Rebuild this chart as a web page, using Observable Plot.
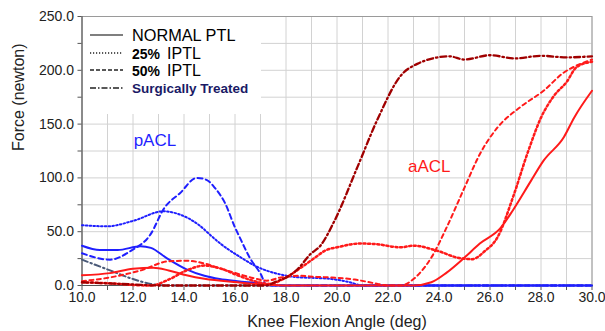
<!DOCTYPE html>
<html><head><meta charset="utf-8">
<script src="https://cdn.jsdelivr.net/npm/d3@7"></script>
<script src="https://cdn.jsdelivr.net/npm/@observablehq/plot@0.6"></script>
<style>
body{margin:0;background:#fff;font-family:"Liberation Sans",Arial,sans-serif;}
#wrap{position:relative;width:605px;height:331px;}
#legend{position:absolute;left:83px;top:17px;width:178px;height:97px;background:#fff;}
</style></head><body><div id="wrap"><div id="chart"></div><div id="legend"></div></div>
<script>
// ---- axis ticks ----
const xTicks = [10,11,12,13,14,15,16,17,18,19,20,21,22,23,24,25,26,27,28,29,30];
const yTicks = [0,25,50,75,100,125,150,175,200,225,250];
const xDomain = [10, 30];
const yDomain = [0, 250];

// ---- pACL (blue) ----
const pNormalX = [10, 10.7, 11.4, 12.3, 12.7, 13.35, 14.1, 14.8, 15.4, 16.1, 17.0, 17.6, 30];
const pNormalY = [37, 33, 33, 36.5, 35, 25, 15, 9, 6, 4, 2, 0, 0];
const p25X = [10, 11, 12, 13.2, 13.7, 14.65, 15.05, 15.45, 16.1, 16.9, 17.65, 18.45, 19.35, 19.8, 20.5, 21.0, 30];
const p25Y = [56, 55, 60, 69, 67, 55, 46.5, 38.5, 28, 17, 11, 7.7, 6.8, 6, 3, 0, 0];
const p50X = [10, 11.1, 11.9, 12.7, 13.2, 13.85, 14.5, 14.9, 15.2, 15.6, 16.0, 16.15, 16.6, 17.0, 17.25, 30];
const p50Y = [30, 24, 32, 48, 71, 86, 100, 98, 91, 77, 54, 46.5, 25, 11, 0, 0];
const pSurgX = [10, 11.1, 12.0, 12.7, 13.3, 30];
const pSurgY = [24, 14, 6, 1.5, 0, 0];

// ---- aACL (red) ----
const aNormalX = [10, 11.1, 12.0, 12.8, 13.4, 14.1, 14.8, 16.1, 17.2, 18, 23.0, 23.7, 24.3, 25.0, 25.6, 26.4, 26.9, 27.6, 28.1, 28.9, 29.3, 30];
const aNormalY = [9.5, 11.5, 15.5, 16.5, 14, 9.5, 6.2, 3, 0.8, 0, 0, 3, 12, 26, 39, 53, 70, 97, 116, 138, 156, 181];
const a25X = [10, 11.1, 12.0, 12.7, 13.4, 14.1, 14.8, 15.4, 16.1, 16.7, 17.35, 18.0, 18.7, 19.2, 19.5, 20.1, 20.9, 21.5, 22.5, 23.0, 23.9, 24.8, 25.3, 25.8, 26.3, 26.9, 27.5, 28.0, 28.5, 29.0, 29.4, 30];
const a25Y = [3, 2, 0.5, 0, 5.5, 14, 18.5, 16, 9.5, 4.5, 1.5, 7.5, 18.5, 27, 32, 36, 39, 38.5, 35.5, 37, 32.5, 25.5, 24.5, 32, 45, 82, 125, 156, 176, 189, 203, 208];
const a50X = [10, 11.1, 12.3, 13.4, 14.1, 14.8, 15.4, 16.1, 16.7, 17.25, 17.8, 18.5, 19.2, 19.8, 20.7, 21.6, 22.0, 22.5, 23.0, 23.7, 24.3, 25.0, 25.6, 26.3, 27.2, 28.1, 28.9, 29.55, 30];
const a50Y = [4, 7.5, 14, 22.5, 23, 20.5, 16, 11, 7, 4.5, 7.5, 9, 8, 7.5, 5.5, 1.5, 0, 0, 6, 26, 54, 91, 122, 147, 166, 181, 198, 206, 210];
const aSurgX = [10, 11, 12, 13, 17.2, 17.65, 18.05, 18.45, 18.95, 19.35, 19.9, 20.8, 21.6, 22.5, 23.15, 24.4, 25.0, 26.0, 27.0, 28.0, 29.0, 30];
const aSurgY = [3, 2, 1, 0, 0, 4, 8, 15, 29, 37, 60, 110, 155, 195, 206, 213, 210, 214, 211, 213.5, 212, 213];

// ---- annotations ----
const noteText = ["pACL", "aACL"];
const noteX = [12.86, 23.62];
const noteY = [134.8, 110.1];
const noteColor = ["#1f1fff", "#ff1a1a"];

// ---- legend ----
const legendLabels = ["NORMAL PTL", "25%  IPTL", "50%  IPTL", "Surgically Treated"];

const pts = (xs, ys) => xs.map((x, i) => ({x, y: ys[i]}));
const BLUE = "#1f1fff", RED = "#ff1a1a", DRED = "#a00000", SLATE = "#4a5a78";
const line = (xs, ys, stroke, dash, w) => Plot.line(pts(xs, ys), {x: "x", y: "y", stroke, strokeWidth: w || 2, strokeDasharray: dash, curve: "monotone-x"});

const notes = noteText.map((t, i) => ({t, x: noteX[i], y: noteY[i], c: noteColor[i]}));

const chart = Plot.plot({
  width: 605, height: 331,
  marginLeft: 81.5, marginRight: 13.5, marginTop: 16, marginBottom: 46,
  style: {fontFamily: "'Liberation Sans', Arial, sans-serif", fontSize: "14px", color: "#222", background: "white"},
  x: {domain: xDomain},
  y: {domain: yDomain},
  marks: [
    Plot.gridX(xTicks, {stroke: "#d2d2d2", strokeOpacity: 1}),
    Plot.gridY(yTicks, {stroke: "#d2d2d2", strokeOpacity: 1}),
    Plot.frame({stroke: "#9a9a9a"}),
    Plot.ruleX([xDomain[0]], {stroke: "#555"}),
    Plot.ruleY([yDomain[0]], {stroke: "#555"}),
    Plot.axisX(xTicks, {tickFormat: d => d % 2 === 0 ? d.toFixed(1) : "", tickSize: 5, tickPadding: 2, label: null, fontSize: 14, stroke: "#555"}),
    Plot.axisY(yTicks, {tickFormat: d => d % 50 === 0 ? d.toFixed(1) : "", tickSize: 4, tickPadding: 4, label: null, fontSize: 14, stroke: "#555"}),
    Plot.text(["Knee Flexion Angle (deg)"], {text: d => d, frameAnchor: "bottom", dy: 41, fontSize: 16, fill: "#222"}),
    Plot.text(["Force (newton)"], {text: d => d, frameAnchor: "left", rotate: -90, dx: -63.5, fontSize: 16, fill: "#222"}),
    // pACL
    line(pSurgX, pSurgY, SLATE, "6,3,1.5,3", 2),
    line(p25X, p25Y, BLUE, "1.6,2.2", 2),
    line(p50X, p50Y, BLUE, "5,3.5", 2),
    line(pNormalX, pNormalY, BLUE, null, 2),
    // aACL
    line(aNormalX, aNormalY, RED, null, 2),
    line(a50X, a50Y, RED, "4,3.5", 2),
    line(a25X, a25Y, RED, "2,2.6", 2.5),
    line(aSurgX, aSurgY, DRED, "6,3,1.5,3", 2.3),
    Plot.text(notes, {x: "x", y: "y", text: "t", fill: "c", fontSize: 17})
  ]
});
document.getElementById("chart").appendChild(chart);

// legend overlay
const dashes = [null, "1.2,1.8", "4,2", "6,2,1.5,2"];
const lstroke = ["#555", "#222", "#222", "#222"];
const lsvg = d3.select("#legend").append("svg").attr("width", 178).attr("height", 97)
  .style("font-family", "'Liberation Sans', Arial, sans-serif");
const rowsY = [18, 36, 53, 71];
legendLabels.forEach((lab, i) => {
  const g = lsvg.append("g");
  g.append("line").attr("x1", 7).attr("x2", 40).attr("y1", rowsY[i]).attr("y2", rowsY[i])
    .attr("stroke", lstroke[i]).attr("stroke-width", i === 0 ? 1.3 : 1.4)
    .attr("stroke-dasharray", dashes[i]);
  const t = g.append("text").attr("x", 49).attr("y", rowsY[i]).attr("dy", "0.36em").attr("fill", "#000");
  if (i === 0) {
    t.attr("font-size", 16.3).text(lab);
  } else if (i === 3) {
    t.attr("font-size", 13.5).attr("font-weight", "bold").attr("fill", "#1a1a66").text(lab);
  } else {
    const parts = lab.split("  ");
    t.append("tspan").attr("font-size", 14).attr("font-weight", "bold").text(parts[0]);
    t.append("tspan").attr("font-size", 16).attr("dx", 7).text(parts[1]);
  }
});
</script>
</body></html>
